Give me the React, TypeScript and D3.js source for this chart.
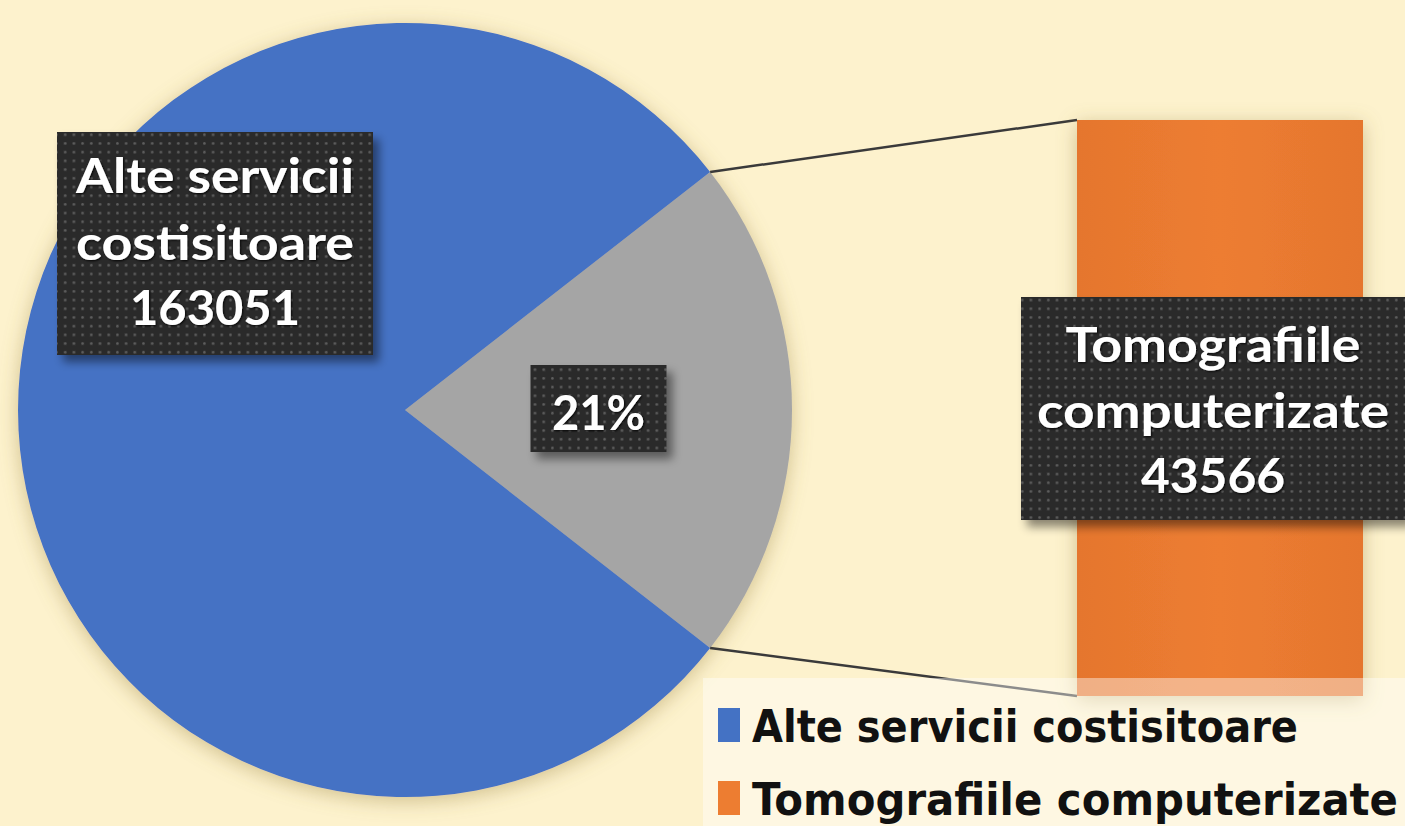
import React from "react";
import * as d3 from "d3";

// ---- data ----
const categories = ["Alte servicii costisitoare", "Tomografiile computerizate"];
const values = [163051, 43566];
const labelLines = [
  ["Alte servicii", "costisitoare"],
  ["Tomografiile", "computerizate"],
];
const legendLabels = ["Alte servicii  costisitoare", "Tomografiile computerizate"];
const barCategories = ["Tomografiile computerizate"];
const barValues = [43566];

const W = 1405;
const H = 826;

export default function App() {
  const cx = 405, cy = 410, r = 387;
  const total = d3.sum(values);
  const share = values[1] / total;
  const a = 2 * Math.PI * share;
  const start = Math.PI / 2 - a / 2;
  const pie = d3
    .pie<{ name: string; value: number }>()
    .sort(null)
    .value((d) => d.value)
    .startAngle(start)
    .endAngle(start + 2 * Math.PI);
  const arcs = pie([
    { name: categories[1], value: values[1] },
    { name: categories[0], value: values[0] },
  ]);
  const arcGen = d3.arc<any>().innerRadius(0).outerRadius(r);
  const pieFill: Record<string, string> = {
    [categories[0]]: "#4472C4",
    [categories[1]]: "#A5A5A5",
  };

  const x = d3.scaleBand().domain(barCategories).range([1077, 1363]).padding(0);
  const y = d3.scaleLinear().domain([0, d3.max(barValues) as number]).range([696, 120]);

  const pt = (ang: number) => [cx + r * Math.sin(ang), cy - r * Math.cos(ang)];
  const p1 = pt(start);
  const p2 = pt(start + a);
  const bx0 = x(barCategories[0]) as number;

  const grayCentroid = d3.arc<any>().innerRadius(0).outerRadius(r).centroid(arcs[0] as any);
  const pct = d3.format(".0%")(share);

  const fmt = (v: number) => String(v);

  const labelFont = "Lato, 'Open Sans', sans-serif";
  const legendFont = "'Liberation Sans Narrow', 'DejaVu Sans Condensed', Lato, sans-serif";

  const Box = ({ x0, y0, w, h }: { x0: number; y0: number; w: number; h: number }) => (
    <rect x={x0} y={y0} width={w} height={h} fill="url(#dots)" filter="url(#boxShadow)" />
  );
  const T = ({ tx, ty, txt, len }: { tx: number; ty: number; txt: string; len: number }) => (
    <text
      x={tx}
      y={ty}
      textAnchor="middle"
      fontFamily={labelFont}
      fontWeight={700}
      fontSize={48}
      fill="#ffffff"
      textLength={len}
      lengthAdjust="spacingAndGlyphs"
      filter="url(#textGlow)"
    >
      {txt}
    </text>
  );

  return (
    <svg
      width={W}
      height={H}
      style={{ position: "fixed", left: 0, top: 0, display: "block" }}
      xmlns="http://www.w3.org/2000/svg"
    >
      <defs>
        <linearGradient id="gBar" x1="0" x2="1" y1="0" y2="0">
          <stop offset="0" stopColor="#e5762e" />
          <stop offset="0.5" stopColor="#ED7D31" />
          <stop offset="1" stopColor="#e5762e" />
        </linearGradient>
        <pattern id="dots" width="8.7" height="8.7" patternUnits="userSpaceOnUse">
          <rect width="8.7" height="8.7" fill="#2c2c2c" />
          <circle cx="4.3" cy="4.3" r="1.3" fill="#5e5e5e" />
        </pattern>
        <filter id="pieShadow" x="-20%" y="-20%" width="140%" height="140%">
          <feDropShadow dx="0" dy="4" stdDeviation="10" floodColor="#9a8340" floodOpacity="0.45" />
        </filter>
        <filter id="boxShadow" x="-20%" y="-20%" width="140%" height="140%">
          <feDropShadow dx="6" dy="7" stdDeviation="5" floodColor="#000" floodOpacity="0.45" />
        </filter>
        <filter id="textGlow" x="-10%" y="-20%" width="120%" height="140%">
          <feDropShadow dx="1" dy="1" stdDeviation="1" floodColor="#000" floodOpacity="0.9" />
        </filter>
      </defs>

      <rect width={W} height={H} fill="#FDF2CD" />

      {/* pie */}
      <g transform={`translate(${cx},${cy})`} filter="url(#pieShadow)">
        {arcs.map((d, i) => (
          <path key={i} d={arcGen(d) as string} fill={pieFill[d.data.name]} />
        ))}
      </g>

      {/* connector lines */}
      <line x1={p1[0]} y1={p1[1]} x2={bx0} y2={y(barValues[0])} stroke="#3a3a3a" strokeWidth={2.5} />
      <line x1={p2[0]} y1={p2[1]} x2={bx0} y2={y(0)} stroke="#3a3a3a" strokeWidth={2.5} />

      {/* bar */}
      {barValues.map((v, i) => (
        <rect
          key={i}
          x={x(barCategories[i])}
          y={y(v)}
          width={x.bandwidth()}
          height={y(0) - y(v)}
          fill="url(#gBar)"
          filter="url(#pieShadow)"
        />
      ))}

      {/* legend panel */}
      <rect x={703} y={678} width={W - 703} height={H - 678} fill="#ffffff" opacity={0.42} />

      {/* data labels */}
      <Box x0={57} y0={132} w={316} h={223} />
      <T tx={215} ty={193} txt={labelLines[0][0]} len={278} />
      <T tx={215} ty={260} txt={labelLines[0][1]} len={278} />
      <T tx={215} ty={325} txt={fmt(values[0])} len={170} />

      <Box x0={cx + grayCentroid[0] - 68} y0={cy + grayCentroid[1] - 45} w={136} h={87} />
      <T tx={cx + grayCentroid[0]} ty={cy + grayCentroid[1] + 20} txt={pct} len={93} />

      <Box x0={1021} y0={297} w={386} h={223} />
      <T tx={1213} ty={362} txt={labelLines[1][0]} len={295} />
      <T tx={1213} ty={428} txt={labelLines[1][1]} len={352} />
      <T tx={1213} ty={493} txt={fmt(barValues[0])} len={144} />

      {/* legend */}
      {legendLabels.map((lab, i) => (
        <g key={i} transform={`translate(0, ${i * 73})`}>
          <rect x={718} y={708} width={22} height={34} fill={["#4472C4", "#ED7D31"][i]} />
          <text
            x={752}
            y={742}
            fontFamily={legendFont}
            fontWeight={700}
            fontSize={44}
            fill="#111"
            textLength={i === 0 ? 546 : 646}
            lengthAdjust="spacingAndGlyphs"
          >
            {lab}
          </text>
        </g>
      ))}
    </svg>
  );
}
